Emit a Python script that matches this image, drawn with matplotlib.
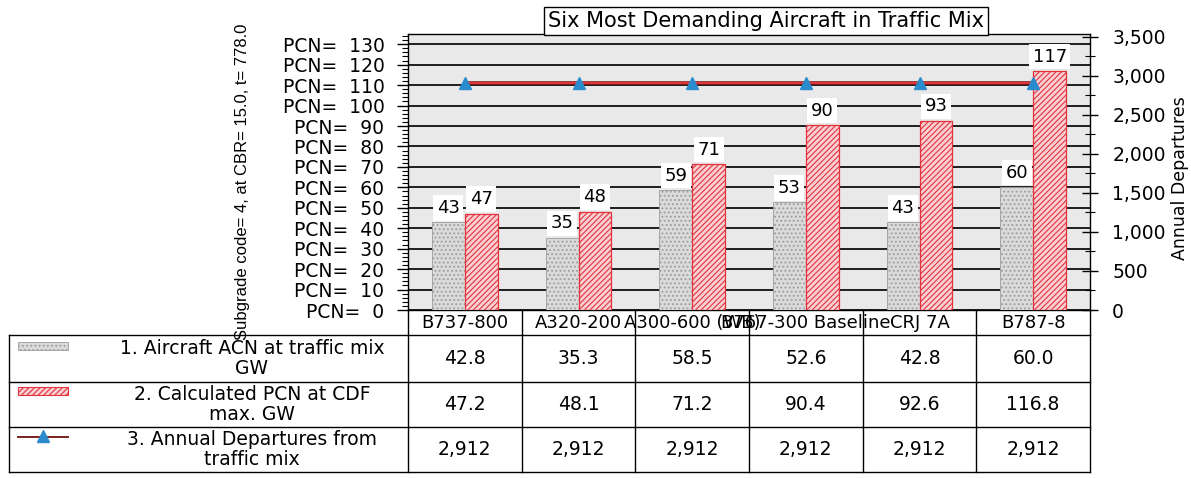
import numpy as np
import matplotlib
matplotlib.use("Agg")
import matplotlib.pyplot as plt
from matplotlib.lines import Line2D
from matplotlib.patches import Rectangle
from matplotlib.transforms import blended_transform_factory
from matplotlib.ticker import MultipleLocator

# ---------------- data ----------------
categories = ["B737-800", "A320-200", "A300-600 (WB)", "B767-300 Baseline", "CRJ 7A", "B787-8"]
acn = [42.8, 35.3, 58.5, 52.6, 42.8, 60.0]
pcn = [47.2, 48.1, 71.2, 90.4, 92.6, 116.8]
departures = [2912, 2912, 2912, 2912, 2912, 2912]
pcn_ticks = list(range(0, 131, 10))
dep_ticks = list(range(0, 3501, 500))
series_names = ["1. Aircraft ACN at traffic mix\nGW",
                "2. Calculated PCN at CDF\nmax. GW",
                "3. Annual Departures from\ntraffic mix"]
title = "Six Most Demanding Aircraft in Traffic Mix"
left_label = "Subgrade code= 4, at CBR= 15.0, t= 778.0"
right_label = "Annual Departures"

# ---------------- style ----------------
plt.rcParams["font.family"] = ["DejaVu Sans"]
plt.rcParams["hatch.linewidth"] = 0.8

W, H = 1191, 478
fig = plt.figure(figsize=(W / 100, H / 100), dpi=100)
fig.patch.set_facecolor("white")


def fx(px):
    return px / W


def fy(py):
    return 1 - py / H


AX_L, AX_R, AX_T, AX_B = 408, 1090, 34, 310
ax = fig.add_axes([fx(AX_L), fy(AX_B), fx(AX_R) - fx(AX_L), fy(AX_T) - fy(AX_B)])
ax.set_facecolor("#e9e9e9")

x = np.arange(len(categories))
bw = 0.29
GRAY_FACE, GRAY_EDGE = "#dadada", "#9c9c9c"
RED_FACE, RED_EDGE = "#f8d0d4", "#e3323c"

ax.bar(x - bw / 2, acn, bw, facecolor=GRAY_FACE, edgecolor=GRAY_EDGE,
       hatch="....", linewidth=0.6, zorder=3)
ax.bar(x + bw / 2, pcn, bw, facecolor=RED_FACE, edgecolor=RED_EDGE,
       hatch="//////", linewidth=0.9, zorder=3)

ax.set_xlim(-0.5, len(categories) - 0.5)
ax.set_ylim(0, 135)
ax.set_xticks([])
ax.set_yticks(pcn_ticks)
ax.set_yticklabels([f"PCN=  {t}" for t in pcn_ticks])
ax.yaxis.set_minor_locator(MultipleLocator(2))
ax.tick_params(axis="y", which="major", direction="out", length=8, width=1,
               pad=9, labelsize=13.5)
ax.tick_params(axis="y", which="minor", direction="out", length=4, width=0.8)
ax.set_axisbelow(True)
ax.grid(axis="y", color="#1e1e1e", linewidth=1.4, zorder=0.5)
for s in ax.spines.values():
    s.set_color("black")
    s.set_linewidth(1)

# data labels
for xi, v in zip(x, acn):
    ax.annotate(f"{int(v + 0.5)}", (xi - bw / 2, v), xytext=(0, 4),
                textcoords="offset points", ha="center", va="bottom",
                fontsize=13, zorder=6,
                bbox=dict(boxstyle="square,pad=0.2", fc="white", ec="none"))
for xi, v in zip(x, pcn):
    ax.annotate(f"{int(v + 0.5)}", (xi + bw / 2, v), xytext=(0, 4),
                textcoords="offset points", ha="center", va="bottom",
                fontsize=13, zorder=6,
                bbox=dict(boxstyle="square,pad=0.2", fc="white", ec="none"))

# secondary axis
ax2 = ax.twinx()
ax2.set_ylim(0, 3538)
ax2.plot(x, departures, color="#7a2020", linewidth=2.6, zorder=4)
ax2.plot(x, departures, color="#e8333a", linewidth=1.4, zorder=5,
         marker="^", markersize=9, markerfacecolor="#2a8ccc",
         markeredgecolor="#2a8ccc")
ax2.set_yticks(dep_ticks)
ax2.set_yticklabels([f"{t:,}" for t in dep_ticks])
ax2.yaxis.set_minor_locator(MultipleLocator(250))
ax2.tick_params(axis="y", which="major", direction="inout", length=12, width=1,
                pad=10, labelsize=13.5)
ax2.tick_params(axis="y", which="minor", direction="inout", length=7, width=0.8)
for s in ax2.spines.values():
    s.set_visible(False)

# axis titles
fig.text(fx(243), fy(182), left_label, rotation=90, ha="center", va="center",
         fontsize=12, family=["Liberation Sans", "DejaVu Sans"])
fig.text(fx(1180), fy(178), right_label, rotation=90, ha="center", va="center",
         fontsize=12.5)

# title box
fig.text(fx(766), fy(21), title, ha="center", va="center", fontsize=15,
         bbox=dict(boxstyle="square,pad=0.2", fc="white", ec="black", lw=1))

# ---------------- data table ----------------
trans = blended_transform_factory(ax.transData, fig.transFigure)
ROWS, TBL_LEFT = [335, 382, 427, 472], 9
right_fig = ax.get_position().x1

for b in np.arange(-0.5, len(categories), 1.0):
    fig.add_artist(Line2D([b, b], [fy(AX_B), fy(ROWS[-1])], transform=trans,
                          color="black", lw=1))
for r in ROWS:
    fig.add_artist(Line2D([fx(TBL_LEFT), right_fig], [fy(r), fy(r)],
                          transform=fig.transFigure, color="black", lw=1))
fig.add_artist(Line2D([fx(TBL_LEFT), fx(TBL_LEFT)], [fy(ROWS[0]), fy(ROWS[-1])],
                      transform=fig.transFigure, color="black", lw=1))

# category labels (header row)
for xi, c in zip(x, categories):
    fig.text(xi, fy((AX_B + ROWS[0]) / 2), c, transform=trans, ha="center",
             va="center", fontsize=13)

row_vals = [[f"{v:.1f}" for v in acn],
            [f"{v:.1f}" for v in pcn],
            [f"{v:,}" for v in departures]]
for ri, vals in enumerate(row_vals):
    yc = fy((ROWS[ri] + ROWS[ri + 1]) / 2)
    for xi, s in zip(x, vals):
        fig.text(xi, yc, s, transform=trans, ha="center", va="center",
                 fontsize=13.5)
    fig.text(fx(252), yc, series_names[ri], ha="center", va="center",
             fontsize=13.5, linespacing=1.05)

# legend swatches
fig.add_artist(Rectangle((fx(18), fy(350)), fx(68) - fx(18), fy(342) - fy(350),
                         transform=fig.transFigure, facecolor=GRAY_FACE,
                         edgecolor=GRAY_EDGE, hatch="....", lw=0.6))
fig.add_artist(Rectangle((fx(18), fy(395)), fx(68) - fx(18), fy(387) - fy(395),
                         transform=fig.transFigure, facecolor=RED_FACE,
                         edgecolor=RED_EDGE, hatch="//////", lw=0.8))
fig.add_artist(Line2D([fx(18), fx(68)], [fy(437), fy(437)],
                      transform=fig.transFigure, color="#7a2020", lw=1.4))
fig.add_artist(Line2D([fx(43)], [fy(436)], transform=fig.transFigure,
                      marker="^", markersize=9, color="#2a8ccc", lw=0))

fig.savefig("out.png", dpi=100, facecolor="white")
